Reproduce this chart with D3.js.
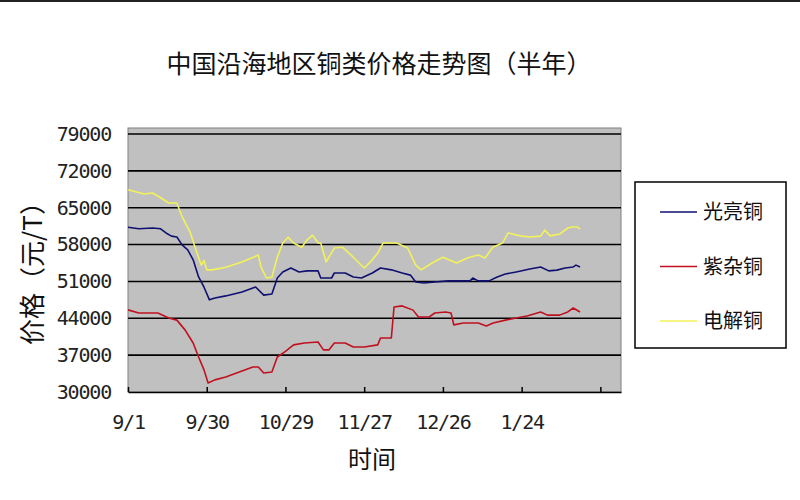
<!DOCTYPE html>
<html><head><meta charset="utf-8">
<script src="https://cdn.jsdelivr.net/npm/d3@7"></script>
<style>
html,body{margin:0;padding:0;background:#fff;}
svg{display:block;}
</style>
</head><body>
<svg id="chart" width="800" height="500"></svg>
<script>
// ---- data (x = days since 9/1) ----
const title = "中国沿海地区铜类价格走势图（半年）";
const yTitle = "价格（元/T）";
const xTitle = "时间";
const seriesNames = ["光亮铜", "紫杂铜", "电解铜"];
const seriesColors = ["#101070", "#c01020", "#f2f25a"];

const yTickValues = [30000, 37000, 44000, 51000, 58000, 65000, 72000, 79000];
const xTickDays = [0, 29, 58, 87, 116, 145, 174];
const xTickLabels = ["9/1", "9/30", "10/29", "11/27", "12/26", "1/24", ""];

const brightDays = [0,4,9,12,14,16,18,20,22,24,26,28,30,32,36,42,47,50,53,55,57,60,63,66,70,71,75,76,80,83,86,90,93,97,101,104,106,109,113,118,120,126,127,129,133,136,139,143,148,152,155,158,161,164,165,166.5];
const brightVals = [61300,61000,61150,61000,60200,59600,59450,57900,57000,55100,51850,49900,47500,47850,48250,49000,49950,48400,48600,51650,52800,53550,52800,53000,53000,51650,51650,52600,52600,51850,51650,52600,53550,53200,52600,52200,50900,50700,50900,51100,51100,51100,51650,51100,51100,51850,52400,52800,53350,53750,53000,53150,53550,53750,54100,53750];

const mixedDays = [0,4,11,15,18,21,24,26,28,29.5,32,36,41,46,48,50,53,55,58,61,65,70,72,74,76,80,83,87,92,93,97,98,101,105,107,111,113,117,119,120,123.5,129,132,134.5,139,143,147,152,154.5,159,162,164,166.5];
const mixedVals = [45600,45000,45000,44050,43650,41800,39300,36650,34200,31700,32300,32850,33800,34750,34750,33600,33800,36650,37700,38950,39300,39500,38000,38000,39300,39300,38550,38550,38950,40250,40250,46150,46350,45550,44250,44250,45000,45200,45000,42750,43100,43100,42550,43100,43650,44050,44450,45200,44600,44600,45200,45950,45200];

const electroDays = [0,6,9,12,15,18,20,23,25,27,28,29,31,36,42,48,49,51,53,55,57,59,61,64,66,68,70,71,73,76,79,83,87,90,92,94,96,99,103,106,108,112,116,121,125,129,131.5,134.5,138,140,144.5,148,152,153.5,155.5,159,162,163.5,165.5,166.5];
const electroVals = [68400,67600,67800,66900,65900,65900,63200,60200,57000,54100,55000,53200,53200,53700,54700,56000,53700,51650,51800,55600,58300,59400,58300,57500,58900,59800,58300,58300,54700,57350,57500,55600,53550,55100,56400,58300,58300,58300,57350,54100,53200,54500,55600,54500,55450,56000,55450,57550,58300,60200,59650,59450,59600,60750,59650,60000,61150,61350,61350,60950];

// ---- layout ----
const svg = d3.select("#chart");
const plot = {left:128, right:621, top:128, bottom:392};

const x = d3.scaleLinear().domain([0, 181.6]).range([plot.left, plot.right]);
const y = d3.scaleLinear().domain([30000, 79000]).range([plot.bottom, 134]);

const tickFont = "'DejaVu Sans Mono', monospace";
const cjkFont = "'Noto Sans CJK SC', sans-serif";

// top border line of image
svg.append("line").attr("x1",0).attr("x2",800).attr("y1",1).attr("y2",1)
  .attr("stroke","#222").attr("stroke-width",2);

// title
svg.append("text").attr("x",379).attr("y",73).attr("text-anchor","middle")
  .attr("font-family",cjkFont).attr("font-size",25)
  .attr("fill","#111").text(title);

// plot background
svg.append("rect").attr("x",plot.left).attr("y",plot.top)
  .attr("width",plot.right-plot.left).attr("height",plot.bottom-plot.top)
  .attr("fill","#c0c0c0").attr("stroke","#808080").attr("stroke-width",1);

// gridlines
svg.append("g").selectAll("line").data(yTickValues.slice(1)).join("line")
  .attr("x1",plot.left).attr("x2",plot.right)
  .attr("y1",d=>y(d)).attr("y2",d=>y(d))
  .attr("stroke","#000").attr("stroke-width",1.6);

// y axis labels
const yAxis = d3.axisLeft(y).tickValues(yTickValues).tickSize(0).tickPadding(17)
  .tickFormat(d=>String(d));
const gy = svg.append("g").attr("transform",`translate(${plot.left},0)`).call(yAxis);
gy.select(".domain").remove();
gy.selectAll("text").attr("font-family",tickFont)
  .attr("font-size",20).attr("letter-spacing","-1.2px").attr("fill","#222");

// x axis
const xAxis = d3.axisBottom(x).tickValues(xTickDays).tickSizeInner(-5).tickSizeOuter(0)
  .tickPadding(23).tickFormat((d,i)=>xTickLabels[i]);
const gx = svg.append("g").attr("transform",`translate(0,${plot.bottom})`).call(xAxis);
gx.select(".domain").attr("stroke","#000").attr("stroke-width",1.5);
gx.selectAll(".tick line").attr("stroke","#000").attr("stroke-width",1.5);
gx.selectAll("text").attr("font-family",tickFont)
  .attr("font-size",20).attr("letter-spacing","-1.2px").attr("fill","#222");

// axis titles
svg.append("text").attr("x",372).attr("y",468).attr("text-anchor","middle")
  .attr("font-family",cjkFont).attr("font-size",24)
  .attr("fill","#111").text(xTitle);
svg.append("text").attr("transform","translate(42,267) rotate(-90)")
  .attr("text-anchor","middle")
  .attr("font-family",cjkFont).attr("font-size",26)
  .attr("fill","#111").text(yTitle);

// series
const series = [
  {days:brightDays, vals:brightVals},
  {days:mixedDays, vals:mixedVals},
  {days:electroDays, vals:electroVals}
];
const line = d3.line().x(d=>x(d[0])).y(d=>y(d[1]));
const gl = svg.append("g");
series.forEach((s,i)=>{
  const pts = s.days.map((d,j)=>[d, s.vals[j]]);
  gl.append("path").datum(pts).attr("d",line)
    .attr("fill","none").attr("stroke",seriesColors[i])
    .attr("stroke-width",1.6).attr("stroke-linejoin","round");
});

// legend
const lg = svg.append("g");
lg.append("rect").attr("x",635).attr("y",182).attr("width",151).attr("height",166)
  .attr("fill","#fff").attr("stroke","#000").attr("stroke-width",1.5);
const legendY = d3.scalePoint().domain(seriesNames).range([212, 321]);
seriesNames.forEach((n,i)=>{
  const yy = legendY(n);
  lg.append("line").attr("x1",660).attr("x2",697).attr("y1",yy).attr("y2",yy)
    .attr("stroke",seriesColors[i]).attr("stroke-width",1.6);
  lg.append("text").attr("x",703).attr("y",yy).attr("dy","0.36em")
    .attr("font-family",cjkFont).attr("font-size",20)
    .attr("fill","#111").text(n);
});
</script>
</body></html>
